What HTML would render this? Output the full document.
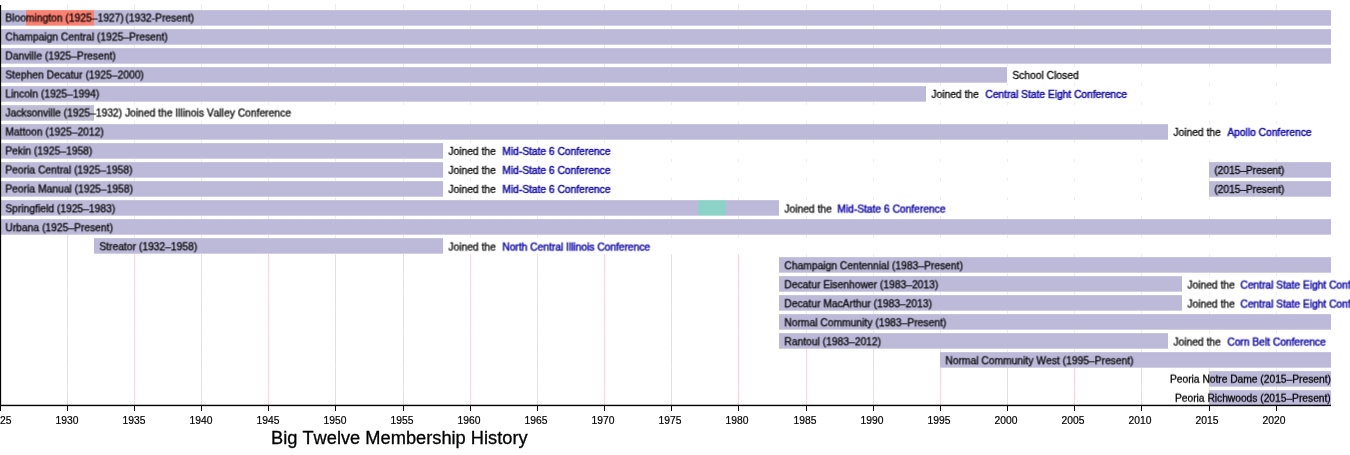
<!DOCTYPE html>
<html><head><meta charset="utf-8"><title>Big Twelve Membership History</title>
<style>
html,body{margin:0;padding:0;background:#fff;width:1350px;height:455px;overflow:hidden;}
#c{font-kerning:none;width:1350px;height:455px;position:absolute;left:0;top:0;overflow:hidden;font-family:"Liberation Sans",sans-serif;color:#000;}
.b{position:absolute;height:16px;}
.g{position:absolute;width:1px;background:#f8d6dd;}
.t{will-change:transform;position:absolute;font-size:10.3px;line-height:16px;height:16px;white-space:nowrap;margin-top:2px;-webkit-text-stroke:0.28px currentColor;}
.w{position:absolute;height:16px;background:#fff;}
.f{position:absolute;width:1px;top:4px;height:234px;background:#eeecf2;}
.l{color:#0c04a6;letter-spacing:-0.03px;-webkit-text-stroke:0.42px #0c04a6 !important;}
.s{position:absolute;left:0;width:1350px;height:1px;background:#fff;}
.k{position:absolute;width:1px;height:6px;top:405px;background:#000;}
.y{will-change:transform;transform:rotate(0.02deg);-webkit-text-stroke:0.2px #000;position:absolute;top:414px;font-size:10.3px;line-height:14px;width:40px;text-align:center;white-space:nowrap;}
#ax{position:absolute;left:0;top:404px;width:1331px;height:3px;background:linear-gradient(to bottom,rgba(0,0,0,.25) 1px,#000 1px,#000 2px,rgba(0,0,0,.15) 2px);}
#ay{position:absolute;left:0;top:5px;width:2px;height:401px;background:linear-gradient(to right,#000 1px,rgba(0,0,0,.12) 1px);}
#ttl{-webkit-text-stroke:0.3px #000;will-change:transform;transform:rotate(0.01deg);position:absolute;left:270.6px;top:426.5px;font-size:18.25px;line-height:22px;white-space:nowrap;}
</style></head><body><div id="c">

<div class="f" style="left:67px"></div>
<div class="f" style="left:134px"></div>
<div class="f" style="left:201px"></div>
<div class="f" style="left:268px"></div>
<div class="f" style="left:335px"></div>
<div class="f" style="left:403px"></div>
<div class="f" style="left:470px"></div>
<div class="f" style="left:537px"></div>
<div class="f" style="left:604px"></div>
<div class="f" style="left:671px"></div>
<div class="f" style="left:738px"></div>
<div class="f" style="left:806px"></div>
<div class="f" style="left:873px"></div>
<div class="f" style="left:940px"></div>
<div class="f" style="left:1007px"></div>
<div class="f" style="left:1074px"></div>
<div class="f" style="left:1141px"></div>
<div class="f" style="left:1209px"></div>
<div class="f" style="left:1276px"></div>
<div class="w" style="top:10px;left:2px;width:1348px"></div>
<div class="w" style="top:29px;left:2px;width:1348px"></div>
<div class="w" style="top:48px;left:2px;width:1348px"></div>
<div class="w" style="top:67px;left:2px;width:1348px"></div>
<div class="w" style="top:86px;left:2px;width:1348px"></div>
<div class="w" style="top:105px;left:2px;width:1348px"></div>
<div class="w" style="top:124px;left:2px;width:1348px"></div>
<div class="w" style="top:143px;left:2px;width:1348px"></div>
<div class="w" style="top:162px;left:2px;width:1348px"></div>
<div class="w" style="top:181px;left:2px;width:1348px"></div>
<div class="w" style="top:200px;left:2px;width:1348px"></div>
<div class="w" style="top:219px;left:2px;width:1348px"></div>
<div class="g" style="left:67px;top:235px;height:170px"></div>
<div class="g" style="left:134px;top:235px;height:170px"></div>
<div class="g" style="left:201px;top:235px;height:170px"></div>
<div class="g" style="left:268px;top:235px;height:170px"></div>
<div class="g" style="left:335px;top:235px;height:170px"></div>
<div class="g" style="left:403px;top:235px;height:170px"></div>
<div class="g" style="left:470px;top:235px;height:170px"></div>
<div class="g" style="left:537px;top:235px;height:170px"></div>
<div class="g" style="left:604px;top:235px;height:170px"></div>
<div class="g" style="left:671px;top:235px;height:170px"></div>
<div class="g" style="left:738px;top:235px;height:170px"></div>
<div class="g" style="left:806px;top:235px;height:170px"></div>
<div class="g" style="left:873px;top:235px;height:170px"></div>
<div class="g" style="left:940px;top:235px;height:170px"></div>
<div class="g" style="left:1007px;top:235px;height:170px"></div>
<div class="g" style="left:1074px;top:235px;height:170px"></div>
<div class="g" style="left:1141px;top:235px;height:170px"></div>
<div class="g" style="left:1209px;top:235px;height:170px"></div>
<div class="g" style="left:1276px;top:235px;height:170px"></div>
<div class="w" style="top:238px;left:94px;width:1256px"></div>
<div class="w" style="top:235px;left:94px;width:1256px;height:3px"></div>
<div class="f" style="left:134px;top:235px;height:3px"></div>
<div class="f" style="left:201px;top:235px;height:3px"></div>
<div class="f" style="left:268px;top:235px;height:3px"></div>
<div class="f" style="left:335px;top:235px;height:3px"></div>
<div class="f" style="left:403px;top:235px;height:3px"></div>
<div class="f" style="left:470px;top:235px;height:3px"></div>
<div class="f" style="left:537px;top:235px;height:3px"></div>
<div class="f" style="left:604px;top:235px;height:3px"></div>
<div class="f" style="left:671px;top:235px;height:3px"></div>
<div class="f" style="left:738px;top:235px;height:3px"></div>
<div class="f" style="left:806px;top:235px;height:3px"></div>
<div class="f" style="left:873px;top:235px;height:3px"></div>
<div class="f" style="left:940px;top:235px;height:3px"></div>
<div class="f" style="left:1007px;top:235px;height:3px"></div>
<div class="f" style="left:1074px;top:235px;height:3px"></div>
<div class="f" style="left:1141px;top:235px;height:3px"></div>
<div class="f" style="left:1209px;top:235px;height:3px"></div>
<div class="f" style="left:1276px;top:235px;height:3px"></div>
<div class="w" style="top:257px;left:779px;width:571px"></div>
<div class="w" style="top:254px;left:779px;width:571px;height:3px"></div>
<div class="f" style="left:806px;top:254px;height:3px"></div>
<div class="f" style="left:873px;top:254px;height:3px"></div>
<div class="f" style="left:940px;top:254px;height:3px"></div>
<div class="f" style="left:1007px;top:254px;height:3px"></div>
<div class="f" style="left:1074px;top:254px;height:3px"></div>
<div class="f" style="left:1141px;top:254px;height:3px"></div>
<div class="f" style="left:1209px;top:254px;height:3px"></div>
<div class="f" style="left:1276px;top:254px;height:3px"></div>
<div class="w" style="top:276px;left:779px;width:571px"></div>
<div class="w" style="top:273px;left:779px;width:571px;height:3px"></div>
<div class="f" style="left:806px;top:273px;height:3px"></div>
<div class="f" style="left:873px;top:273px;height:3px"></div>
<div class="f" style="left:940px;top:273px;height:3px"></div>
<div class="f" style="left:1007px;top:273px;height:3px"></div>
<div class="f" style="left:1074px;top:273px;height:3px"></div>
<div class="f" style="left:1141px;top:273px;height:3px"></div>
<div class="f" style="left:1209px;top:273px;height:3px"></div>
<div class="f" style="left:1276px;top:273px;height:3px"></div>
<div class="w" style="top:295px;left:779px;width:571px"></div>
<div class="w" style="top:292px;left:779px;width:571px;height:3px"></div>
<div class="f" style="left:806px;top:292px;height:3px"></div>
<div class="f" style="left:873px;top:292px;height:3px"></div>
<div class="f" style="left:940px;top:292px;height:3px"></div>
<div class="f" style="left:1007px;top:292px;height:3px"></div>
<div class="f" style="left:1074px;top:292px;height:3px"></div>
<div class="f" style="left:1141px;top:292px;height:3px"></div>
<div class="f" style="left:1209px;top:292px;height:3px"></div>
<div class="f" style="left:1276px;top:292px;height:3px"></div>
<div class="w" style="top:314px;left:779px;width:571px"></div>
<div class="w" style="top:311px;left:779px;width:571px;height:3px"></div>
<div class="f" style="left:806px;top:311px;height:3px"></div>
<div class="f" style="left:873px;top:311px;height:3px"></div>
<div class="f" style="left:940px;top:311px;height:3px"></div>
<div class="f" style="left:1007px;top:311px;height:3px"></div>
<div class="f" style="left:1074px;top:311px;height:3px"></div>
<div class="f" style="left:1141px;top:311px;height:3px"></div>
<div class="f" style="left:1209px;top:311px;height:3px"></div>
<div class="f" style="left:1276px;top:311px;height:3px"></div>
<div class="w" style="top:333px;left:779px;width:571px"></div>
<div class="w" style="top:330px;left:779px;width:571px;height:3px"></div>
<div class="f" style="left:806px;top:330px;height:3px"></div>
<div class="f" style="left:873px;top:330px;height:3px"></div>
<div class="f" style="left:940px;top:330px;height:3px"></div>
<div class="f" style="left:1007px;top:330px;height:3px"></div>
<div class="f" style="left:1074px;top:330px;height:3px"></div>
<div class="f" style="left:1141px;top:330px;height:3px"></div>
<div class="f" style="left:1209px;top:330px;height:3px"></div>
<div class="f" style="left:1276px;top:330px;height:3px"></div>
<div class="w" style="top:352px;left:940px;width:410px"></div>
<div class="w" style="top:349px;left:940px;width:410px;height:3px"></div>
<div class="f" style="left:940px;top:349px;height:3px"></div>
<div class="f" style="left:1007px;top:349px;height:3px"></div>
<div class="f" style="left:1074px;top:349px;height:3px"></div>
<div class="f" style="left:1141px;top:349px;height:3px"></div>
<div class="f" style="left:1209px;top:349px;height:3px"></div>
<div class="f" style="left:1276px;top:349px;height:3px"></div>
<div class="w" style="top:371px;left:1209px;width:141px"></div>
<div class="w" style="top:368px;left:1209px;width:141px;height:3px"></div>
<div class="f" style="left:1209px;top:368px;height:3px"></div>
<div class="f" style="left:1276px;top:368px;height:3px"></div>
<div class="w" style="top:390px;left:1209px;width:141px"></div>
<div class="w" style="top:387px;left:1209px;width:141px;height:3px"></div>
<div class="f" style="left:1209px;top:387px;height:3px"></div>
<div class="f" style="left:1276px;top:387px;height:3px"></div>
<div class="b" style="left:0px;top:10px;width:1331px;background:#bdb9d9"></div>
<div class="b" style="left:26px;top:10px;width:68px;background:#fa8071"></div>
<div class="b" style="left:0px;top:29px;width:1331px;background:#bdb9d9"></div>
<div class="b" style="left:0px;top:48px;width:1331px;background:#bdb9d9"></div>
<div class="b" style="left:0px;top:67px;width:1007px;background:#bdb9d9"></div>
<div class="b" style="left:0px;top:86px;width:926px;background:#bdb9d9"></div>
<div class="b" style="left:0px;top:105px;width:94px;background:#bfbdd4"></div>
<div class="b" style="left:0px;top:124px;width:1168px;background:#bdb9d9"></div>
<div class="b" style="left:0px;top:143px;width:443px;background:#bdb9d9"></div>
<div class="b" style="left:0px;top:162px;width:443px;background:#bdb9d9"></div>
<div class="b" style="left:1209px;top:162px;width:122px;background:#bdb9d9"></div>
<div class="b" style="left:0px;top:181px;width:443px;background:#bdb9d9"></div>
<div class="b" style="left:1209px;top:181px;width:122px;background:#bdb9d9"></div>
<div class="b" style="left:0px;top:200px;width:779px;background:#bdb9d9"></div>
<div class="b" style="left:698px;top:200px;width:27px;background:#8dd2c6"></div>
<div class="b" style="left:0px;top:219px;width:1331px;background:#bdb9d9"></div>
<div class="b" style="left:94px;top:238px;width:349px;background:#bdb9d9"></div>
<div class="b" style="left:779px;top:257px;width:552px;background:#bdb9d9"></div>
<div class="b" style="left:779px;top:276px;width:403px;background:#bdb9d9"></div>
<div class="b" style="left:779px;top:295px;width:403px;background:#bdb9d9"></div>
<div class="b" style="left:779px;top:314px;width:552px;background:#bdb9d9"></div>
<div class="b" style="left:779px;top:333px;width:389px;background:#bdb9d9"></div>
<div class="b" style="left:940px;top:352px;width:391px;background:#bdb9d9"></div>
<div class="b" style="left:1209px;top:371px;width:122px;background:#bdb9d9"></div>
<div class="b" style="left:1209px;top:390px;width:122px;background:#bdb9d9"></div>
<div class="t" id="r0" style="left:5px;top:10px;transform:translate(0.40px,-1.45px) rotate(0.02deg)">Bloomington (1925–1927)<span style="margin-left:1.5px">(1932-Present)</span></div>
<div class="t" id="r1" style="left:5px;top:29px;transform:translate(0.40px,-1.45px) rotate(0.02deg)">Champaign Central (1925–Present)</div>
<div class="t" id="r2" style="left:5px;top:48px;transform:translate(0.40px,-1.45px) rotate(0.02deg)">Danville (1925–Present)</div>
<div class="t" id="r3" style="left:5px;top:67px;transform:translate(0.40px,-1.45px) rotate(0.02deg)">Stephen Decatur (1925–2000)</div>
<div class="t" id="r3e0" style="left:1012px;top:67px;transform:translate(0.40px,-1.05px) rotate(0.02deg)">School Closed</div>
<div class="t" id="r4" style="left:5px;top:86px;transform:translate(0.40px,-1.45px) rotate(0.02deg)">Lincoln (1925–1994)</div>
<div class="t" id="r4e0" style="left:931px;top:86px;transform:translate(0.40px,-1.05px) rotate(0.02deg)">Joined the</div>
<div class="t l" id="r4e1" style="left:985px;top:86px;transform:translate(0.40px,-1.05px) rotate(0.02deg)">Central State Eight Conference</div>
<div class="t" id="r5" style="left:5px;top:105px;transform:translate(0.40px,-1.45px) rotate(0.02deg)">Jacksonville (1925–1932) Joined the Illinois Valley Conference</div>
<div class="t" id="r6" style="left:5px;top:124px;transform:translate(0.40px,-1.45px) rotate(0.02deg)">Mattoon (1925–2012)</div>
<div class="t" id="r6e0" style="left:1173px;top:124px;transform:translate(0.40px,-1.05px) rotate(0.02deg)">Joined the</div>
<div class="t l" id="r6e1" style="left:1227px;top:124px;transform:translate(0.40px,-1.05px) rotate(0.02deg)">Apollo Conference</div>
<div class="t" id="r7" style="left:5px;top:143px;transform:translate(0.40px,-1.45px) rotate(0.02deg)">Pekin (1925–1958)</div>
<div class="t" id="r7e0" style="left:448px;top:143px;transform:translate(0.40px,-1.05px) rotate(0.02deg)">Joined the</div>
<div class="t l" id="r7e1" style="left:502px;top:143px;transform:translate(0.40px,-1.05px) rotate(0.02deg)">Mid-State 6 Conference</div>
<div class="t" id="r8" style="left:5px;top:162px;transform:translate(0.40px,-1.45px) rotate(0.02deg)">Peoria Central (1925–1958)</div>
<div class="t" id="r8e0" style="left:448px;top:162px;transform:translate(0.40px,-1.05px) rotate(0.02deg)">Joined the</div>
<div class="t l" id="r8e1" style="left:502px;top:162px;transform:translate(0.40px,-1.05px) rotate(0.02deg)">Mid-State 6 Conference</div>
<div class="t" id="r8e2" style="left:1214px;top:162px;transform:translate(0.40px,-1.05px) rotate(0.02deg)"><span style="letter-spacing:-0.08px">(2015–Present)</span></div>
<div class="t" id="r9" style="left:5px;top:181px;transform:translate(0.40px,-1.45px) rotate(0.02deg)">Peoria Manual (1925–1958)</div>
<div class="t" id="r9e0" style="left:448px;top:181px;transform:translate(0.40px,-1.05px) rotate(0.02deg)">Joined the</div>
<div class="t l" id="r9e1" style="left:502px;top:181px;transform:translate(0.40px,-1.05px) rotate(0.02deg)">Mid-State 6 Conference</div>
<div class="t" id="r9e2" style="left:1214px;top:181px;transform:translate(0.40px,-1.05px) rotate(0.02deg)"><span style="letter-spacing:-0.08px">(2015–Present)</span></div>
<div class="t" id="r10" style="left:5px;top:200px;transform:translate(0.40px,-0.70px) rotate(0.02deg)">Springfield (1925–1983)</div>
<div class="t" id="r10e0" style="left:784px;top:200px;transform:translate(0.40px,-0.40px) rotate(0.02deg)">Joined the</div>
<div class="t l" id="r10e1" style="left:837px;top:200px;transform:translate(0.40px,-0.40px) rotate(0.02deg)">Mid-State 6 Conference</div>
<div class="t" id="r11" style="left:5px;top:219px;transform:translate(0.40px,-0.70px) rotate(0.02deg)">Urbana (1925–Present)</div>
<div class="t" id="r12" style="left:99px;top:238px;transform:translate(0.40px,-0.70px) rotate(0.02deg)">Streator (1932–1958)</div>
<div class="t" id="r12e0" style="left:448px;top:238px;transform:translate(0.40px,-0.40px) rotate(0.02deg)">Joined the</div>
<div class="t l" id="r12e1" style="left:502px;top:238px;transform:translate(0.40px,-0.40px) rotate(0.02deg)">North Central Illinois Conference</div>
<div class="t" id="r13" style="left:784px;top:257px;transform:translate(0.40px,-0.70px) rotate(0.02deg)">Champaign Centennial (1983–Present)</div>
<div class="t" id="r14" style="left:784px;top:276px;transform:translate(0.40px,-0.70px) rotate(0.02deg)">Decatur Eisenhower (1983–2013)</div>
<div class="t" id="r14e0" style="left:1187px;top:276px;transform:translate(0.40px,-0.40px) rotate(0.02deg)">Joined the</div>
<div class="t l" id="r14e1" style="left:1240px;top:276px;transform:translate(0.40px,-0.40px) rotate(0.02deg)">Central State Eight Conference</div>
<div class="t" id="r15" style="left:784px;top:295px;transform:translate(0.40px,-0.70px) rotate(0.02deg)">Decatur MacArthur (1983–2013)</div>
<div class="t" id="r15e0" style="left:1187px;top:295px;transform:translate(0.40px,-0.40px) rotate(0.02deg)">Joined the</div>
<div class="t l" id="r15e1" style="left:1240px;top:295px;transform:translate(0.40px,-0.40px) rotate(0.02deg)">Central State Eight Conference</div>
<div class="t" id="r16" style="left:784px;top:314px;transform:translate(0.40px,-0.70px) rotate(0.02deg)">Normal Community (1983–Present)</div>
<div class="t" id="r17" style="left:784px;top:333px;transform:translate(0.40px,-0.70px) rotate(0.02deg)">Rantoul (1983–2012)</div>
<div class="t" id="r17e0" style="left:1173px;top:333px;transform:translate(0.40px,-0.40px) rotate(0.02deg)">Joined the</div>
<div class="t l" id="r17e1" style="left:1227px;top:333px;transform:translate(0.40px,-0.40px) rotate(0.02deg)">Corn Belt Conference</div>
<div class="t" id="r18" style="left:945px;top:352px;transform:translate(0.40px,-0.70px) rotate(0.02deg)">Normal Community West (1995–Present)</div>
<div class="t" id="r19" style="right:19.0px;top:371px;letter-spacing:-0.035px;transform:translate(0.00px,-1.25px) rotate(0.02deg)">Peoria Notre Dame (2015–Present)</div>
<div class="t" id="r20" style="right:19.0px;top:390px;letter-spacing:-0.035px;transform:translate(0.00px,-1.25px) rotate(0.02deg)">Peoria Richwoods (2015–Present)</div>
<div class="s" style="top:10px;opacity:.15"></div><div class="s" style="top:25px;opacity:.32"></div>
<div class="s" style="top:29px;opacity:.15"></div><div class="s" style="top:44px;opacity:.32"></div>
<div class="s" style="top:48px;opacity:.15"></div><div class="s" style="top:63px;opacity:.32"></div>
<div class="s" style="top:67px;opacity:.15"></div><div class="s" style="top:82px;opacity:.32"></div>
<div class="s" style="top:86px;opacity:.15"></div><div class="s" style="top:101px;opacity:.32"></div>
<div class="s" style="top:105px;opacity:.15"></div><div class="s" style="top:120px;opacity:.32"></div>
<div class="s" style="top:124px;opacity:.15"></div><div class="s" style="top:139px;opacity:.32"></div>
<div class="s" style="top:143px;opacity:.15"></div><div class="s" style="top:158px;opacity:.32"></div>
<div class="s" style="top:162px;opacity:.15"></div><div class="s" style="top:177px;opacity:.32"></div>
<div class="s" style="top:181px;opacity:.15"></div><div class="s" style="top:196px;opacity:.32"></div>
<div class="s" style="top:200px;opacity:.15"></div><div class="s" style="top:215px;opacity:.32"></div>
<div class="s" style="top:219px;opacity:.15"></div><div class="s" style="top:234px;opacity:.32"></div>
<div class="s" style="top:238px;opacity:.15"></div><div class="s" style="top:253px;opacity:.32"></div>
<div class="s" style="top:257px;opacity:.15"></div><div class="s" style="top:272px;opacity:.32"></div>
<div class="s" style="top:276px;opacity:.15"></div><div class="s" style="top:291px;opacity:.32"></div>
<div class="s" style="top:295px;opacity:.15"></div><div class="s" style="top:310px;opacity:.32"></div>
<div class="s" style="top:314px;opacity:.15"></div><div class="s" style="top:329px;opacity:.32"></div>
<div class="s" style="top:333px;opacity:.15"></div><div class="s" style="top:348px;opacity:.32"></div>
<div class="s" style="top:352px;opacity:.15"></div><div class="s" style="top:367px;opacity:.32"></div>
<div class="s" style="top:371px;opacity:.15"></div><div class="s" style="top:386px;opacity:.32"></div>
<div class="s" style="top:390px;opacity:.15"></div><div class="s" style="top:405px;opacity:.32"></div>
<div id="ax"></div><div id="ay"></div>
<div class="k" style="left:0px"></div>
<div class="y" style="left:-20.30px">1925</div>
<div class="k" style="left:67px"></div>
<div class="y" style="left:46.77px">1930</div>
<div class="k" style="left:134px"></div>
<div class="y" style="left:113.84px">1935</div>
<div class="k" style="left:201px"></div>
<div class="y" style="left:180.91px">1940</div>
<div class="k" style="left:268px"></div>
<div class="y" style="left:247.98px">1945</div>
<div class="k" style="left:335px"></div>
<div class="y" style="left:315.05px">1950</div>
<div class="k" style="left:403px"></div>
<div class="y" style="left:382.12px">1955</div>
<div class="k" style="left:470px"></div>
<div class="y" style="left:449.19px">1960</div>
<div class="k" style="left:537px"></div>
<div class="y" style="left:516.26px">1965</div>
<div class="k" style="left:604px"></div>
<div class="y" style="left:583.33px">1970</div>
<div class="k" style="left:671px"></div>
<div class="y" style="left:650.40px">1975</div>
<div class="k" style="left:738px"></div>
<div class="y" style="left:717.47px">1980</div>
<div class="k" style="left:806px"></div>
<div class="y" style="left:784.54px">1985</div>
<div class="k" style="left:873px"></div>
<div class="y" style="left:851.61px">1990</div>
<div class="k" style="left:940px"></div>
<div class="y" style="left:918.68px">1995</div>
<div class="k" style="left:1007px"></div>
<div class="y" style="left:985.75px">2000</div>
<div class="k" style="left:1074px"></div>
<div class="y" style="left:1052.82px">2005</div>
<div class="k" style="left:1141px"></div>
<div class="y" style="left:1119.89px">2010</div>
<div class="k" style="left:1209px"></div>
<div class="y" style="left:1186.96px">2015</div>
<div class="k" style="left:1276px"></div>
<div class="y" style="left:1254.03px">2020</div>
<div id="ttl">Big Twelve Membership History</div>
</div></body></html>
